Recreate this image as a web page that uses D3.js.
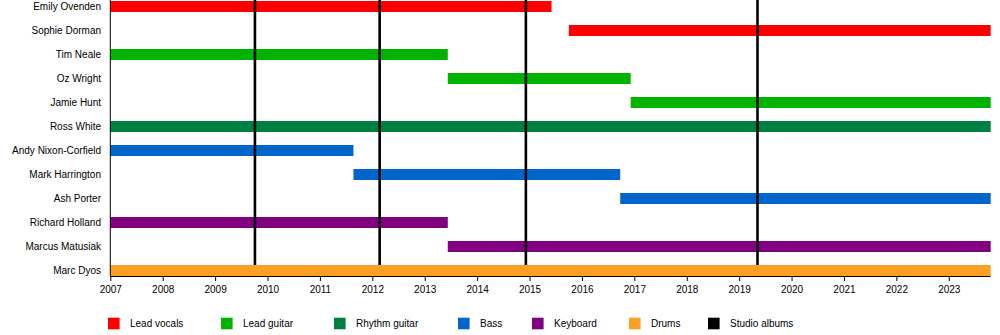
<!DOCTYPE html>
<html>
<head>
<meta charset="utf-8">
<script src="https://cdn.jsdelivr.net/npm/d3@7"></script>
<style>
  html, body { margin: 0; padding: 0; background: #fff; }
  svg { display: block; font-family: "Liberation Sans", Arial, sans-serif; }
</style>
</head>
<body>
<svg id="chart" width="1000" height="335"></svg>
<script>
// Band members, top to bottom
const members = [
  "Emily Ovenden", "Sophie Dorman", "Tim Neale", "Oz Wright", "Jamie Hunt",
  "Ross White", "Andy Nixon-Corfield", "Mark Harrington", "Ash Porter",
  "Richard Holland", "Marcus Matusiak", "Marc Dyos"
];
// Membership periods (decimal years) and role of each member
const starts = [2007, 2015.75, 2007, 2013.44, 2016.93, 2007, 2007, 2011.64, 2016.73, 2007, 2013.44, 2007];
const ends   = [2015.42, 2023.8, 2013.44, 2016.93, 2023.8, 2023.8, 2011.64, 2016.73, 2023.8, 2013.44, 2023.8, 2023.8];
const roles  = ["Lead vocals", "Lead vocals", "Lead guitar", "Lead guitar", "Lead guitar",
  "Rhythm guitar", "Bass", "Bass", "Bass", "Keyboard", "Keyboard", "Drums"];

// Roles and their colours (legend order)
const roleNames  = ["Lead vocals", "Lead guitar", "Rhythm guitar", "Bass", "Keyboard", "Drums", "Studio albums"];
const roleColors = ["#ff0000", "#00b300", "#008040", "#0066cc", "#800080", "#ffa024", "#000000"];

// Studio album release dates
const albums = [2009.76, 2012.14, 2014.93, 2019.35];

// Timeline extent and year ticks
const timeStart = 2007, timeEnd = 2023.8;
const yearTicks = d3.range(2007, 2024);

// Layout
const plotLeft = 110.3, plotRight = 990.7;
const firstRow = 6.5, lastRow = 270.5, barH = 11;
const axisY = 276;
const legendX = [108, 221, 334, 458, 532, 629, 708];
const legendY = 317.7, legendBox = 11.6;

const svg = d3.select("#chart");
const x = d3.scaleLinear().domain([timeStart, timeEnd]).range([plotLeft, plotRight]);
const y = d3.scalePoint().domain(members).range([firstRow, lastRow]);
const color = d3.scaleOrdinal().domain(roleNames).range(roleColors);

// Member bars
svg.append("g").selectAll("rect")
  .data(members)
  .join("rect")
  .attr("x", (d, i) => x(starts[i]))
  .attr("y", d => y(d) - barH / 2)
  .attr("width", (d, i) => x(ends[i]) - x(starts[i]))
  .attr("height", barH)
  .attr("fill", (d, i) => color(roles[i]));

// Studio album markers
svg.append("g").selectAll("line")
  .data(albums)
  .join("line")
  .attr("x1", d => x(d)).attr("x2", d => x(d))
  .attr("y1", 0).attr("y2", y(members[members.length - 1]) - barH / 2)
  .attr("stroke", color("Studio albums"))
  .attr("stroke-width", 2.6);

// Member names
svg.append("g").selectAll("text")
  .data(members)
  .join("text")
  .attr("x", 101)
  .attr("y", d => y(d))
  .attr("dy", "0.35em")
  .attr("text-anchor", "end")
  .attr("font-size", 10)
  .attr("fill", "#000")
  .text(d => d);

// Left edge of plot
svg.append("line")
  .attr("x1", plotLeft).attr("x2", plotLeft)
  .attr("y1", 0).attr("y2", axisY)
  .attr("stroke", "#000").attr("stroke-width", 1);

// Year axis
const axis = d3.axisBottom(x)
  .tickValues(yearTicks)
  .tickFormat(d3.format("d"))
  .tickSize(5)
  .tickSizeOuter(0);
const gx = svg.append("g")
  .attr("transform", `translate(0,${axisY})`)
  .call(axis);
gx.select(".domain").attr("stroke", "#000").attr("d", `M${plotLeft},0.5H${plotRight}`);
gx.selectAll(".tick line").attr("stroke", "#000");
gx.selectAll(".tick text")
  .attr("font-family", "'Liberation Sans', Arial, sans-serif")
  .attr("font-size", 10)
  .attr("fill", "#000")
  .attr("y", 10);

// Legend
const leg = svg.append("g").selectAll("g")
  .data(roleNames)
  .join("g")
  .attr("transform", (d, i) => `translate(${legendX[i]},${legendY})`);
leg.append("rect")
  .attr("width", legendBox).attr("height", legendBox)
  .attr("fill", d => color(d));
leg.append("text")
  .attr("x", 22)
  .attr("y", legendBox / 2)
  .attr("dy", "0.35em")
  .attr("font-size", 10)
  .attr("fill", "#000")
  .text(d => d);
</script>
</body>
</html>
